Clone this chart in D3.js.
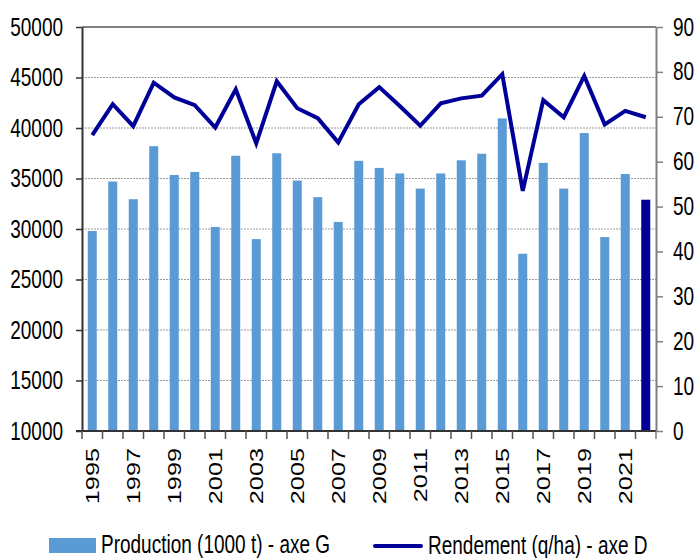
<!DOCTYPE html>
<html>
<head>
<meta charset="utf-8">
<script src="https://cdn.jsdelivr.net/npm/d3@7"></script>
<style>
    body { margin: 0; background: #fff; }
    svg { display: block; }
    text { font-family: "Liberation Sans", Arial, sans-serif; fill: #000; }
</style>
</head>
<body>
<div id="chart"></div>
<script>
//chart data
var years = [1995, 1996, 1997, 1998, 1999, 2000, 2001, 2002, 2003, 2004, 2005, 2006, 2007, 2008,
    2009, 2010, 2011, 2012, 2013, 2014, 2015, 2016, 2017, 2018, 2019, 2020, 2021, 2022];
var production = [29800, 34700, 32950, 38200, 35350, 35650, 30200, 37250, 29000, 37500, 34800, 33150, 30700, 36750,
    36050, 35500, 34000, 35500, 36800, 37450, 40950, 27550, 36550, 34000, 39500, 29200, 35450, 32900];
var rendement = [65.9, 72.8, 67.9, 77.6, 74.3, 72.6, 67.6, 76.1, 64.1, 77.9, 71.9, 69.7, 64.3, 72.8,
    76.6, 72.4, 68.0, 73.0, 74.1, 74.7, 79.5, 53.5, 73.7, 69.9, 79.1, 68.3, 71.3, 69.9];
var leftTicks = [10000, 15000, 20000, 25000, 30000, 35000, 40000, 45000, 50000];
var rightTicks = [0, 10, 20, 30, 40, 50, 60, 70, 80, 90];
var seriesNames = ['Production (1000 t) - axe G', 'Rendement (q/ha) - axe D'];

(function () {
    //chart dimensions
    var width = 699,
        height = 558,
        plot = { left: 82, top: 27, right: 656, bottom: 431 },
        stretch = 1.33,
        fontSize = 19,
        barColor = '#5b9bd5',
        navy = '#000099';

    //create svg
    var svg = d3.select('#chart').append('svg')
        .attr('width', width)
        .attr('height', height);

    //create scales
    var xScale = d3.scaleBand().domain(years).range([plot.left, plot.right]).padding(0),
        yLeft = d3.scaleLinear().domain([10000, 50000]).range([plot.bottom, plot.top]),
        yRight = d3.scaleLinear().domain([0, 90]).range([plot.bottom, plot.top]),
        barWidth = xScale.bandwidth() * 0.44;

    //draw grid lines
    svg.append('g')
        .selectAll('line')
        .data(leftTicks.slice(1, -1))
        .enter().append('line')
        .attr('x1', plot.left)
        .attr('x2', plot.right)
        .attr('y1', function (d) { return yLeft(d); })
        .attr('y2', function (d) { return yLeft(d); })
        .attr('stroke', '#9a9a9a')
        .attr('stroke-width', 1)
        .attr('stroke-dasharray', '2,1');

    //draw bars
    svg.append('g')
        .selectAll('rect')
        .data(years)
        .enter().append('rect')
        .attr('x', function (d) { return xScale(d) + (xScale.bandwidth() - barWidth) / 2; })
        .attr('y', function (d, i) { return yLeft(production[i]); })
        .attr('width', barWidth)
        .attr('height', function (d, i) { return yLeft(10000) - yLeft(production[i]); })
        .attr('fill', function (d, i) { return i === years.length - 1 ? navy : barColor; });

    //top frame
    svg.append('line')
        .attr('x1', plot.left).attr('x2', plot.right)
        .attr('y1', plot.top).attr('y2', plot.top)
        .attr('stroke', '#808080').attr('stroke-width', 2);

    //left axis
    var leftAxis = svg.append('g')
        .attr('transform', 'translate(' + plot.left + ',0)')
        .call(d3.axisLeft(yLeft).tickValues(leftTicks).tickFormat(d3.format('d'))
            .tickSize(6).tickPadding(13).tickSizeOuter(0));
    leftAxis.select('.domain').attr('stroke', '#333').attr('stroke-width', 2);
    leftAxis.selectAll('.tick line').attr('stroke', '#333').attr('stroke-width', 1.5);
    leftAxis.selectAll('.tick text')
        .attr('font-size', fontSize)
        .attr('font-family', '"Liberation Sans", Arial, sans-serif')
        .attr('transform', 'scale(1,' + stretch + ')');

    //right axis
    var rightAxis = svg.append('g')
        .attr('transform', 'translate(' + plot.right + ',0)')
        .call(d3.axisRight(yRight).tickValues(rightTicks).tickFormat(d3.format('d'))
            .tickSize(7).tickPadding(10).tickSizeOuter(0));
    rightAxis.select('.domain').attr('stroke', '#808080').attr('stroke-width', 2);
    rightAxis.selectAll('.tick line').attr('stroke', '#808080').attr('stroke-width', 1.5);
    rightAxis.selectAll('.tick text')
        .attr('font-size', fontSize)
        .attr('font-family', '"Liberation Sans", Arial, sans-serif')
        .attr('transform', 'scale(1,' + stretch + ')');

    //bottom axis line and ticks between categories
    var bottomG = svg.append('g');
    bottomG.append('line')
        .attr('x1', plot.left - 6).attr('x2', plot.right)
        .attr('y1', plot.bottom).attr('y2', plot.bottom)
        .attr('stroke', '#333').attr('stroke-width', 2);
    bottomG.selectAll('.xtick')
        .data(years.concat([null]))
        .enter().append('line')
        .attr('class', 'xtick')
        .attr('x1', function (d) { return d === null ? plot.right : xScale(d); })
        .attr('x2', function (d) { return d === null ? plot.right : xScale(d); })
        .attr('y1', plot.bottom)
        .attr('y2', plot.bottom + 8)
        .attr('stroke', function (d) { return d === null ? '#808080' : '#555'; })
        .attr('stroke-width', 1.5);

    //year labels every other year
    bottomG.selectAll('.xlabel')
        .data(years.filter(function (d) { return d % 2 === 1; }))
        .enter().append('text')
        .attr('class', 'xlabel')
        .attr('font-size', fontSize)
        .attr('text-anchor', 'end')
        .attr('dy', '0.35em')
        .attr('transform', function (d) {
            return 'translate(' + (xScale(d) + xScale.bandwidth() / 2) + ',' + (plot.bottom + 17) + ') scale(1,' + stretch + ') rotate(-90)';
        })
        .text(function (d) { return d; });

    //draw rendement line
    var line = d3.line()
        .x(function (d, i) { return xScale(years[i]) + xScale.bandwidth() / 2; })
        .y(function (d) { return yRight(d); });
    svg.append('path')
        .datum(rendement)
        .attr('d', line)
        .attr('fill', 'none')
        .attr('stroke', navy)
        .attr('stroke-width', 4)
        .attr('stroke-linejoin', 'miter');

    //legend
    var legend = svg.append('g');
    legend.append('rect')
        .attr('x', 49).attr('y', 538)
        .attr('width', 47).attr('height', 15)
        .attr('fill', barColor);
    legend.append('text')
        .attr('font-size', fontSize)
        .attr('transform', 'translate(101,553) scale(1,' + stretch + ')')
        .text(seriesNames[0]);
    legend.append('line')
        .attr('x1', 375).attr('x2', 421)
        .attr('y1', 546).attr('y2', 546)
        .attr('stroke', navy)
        .attr('stroke-width', 4)
        .attr('stroke-linecap', 'round');
    legend.append('text')
        .attr('font-size', fontSize)
        .attr('transform', 'translate(428,554) scale(1,' + stretch + ')')
        .text(seriesNames[1]);
})();
</script>
</body>
</html>
